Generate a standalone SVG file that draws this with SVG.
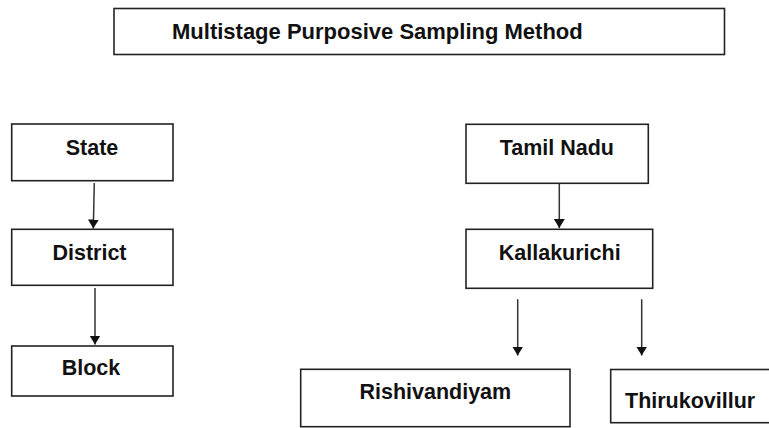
<svg xmlns="http://www.w3.org/2000/svg" width="769" height="428" viewBox="0 0 769 428">
  <style>
    .box { fill: #ffffff; stroke: #222222; stroke-width: 1.6; }
    .label { font-family: "Liberation Sans", Arial, sans-serif; font-weight: bold; font-size: 21.5px; fill: #111111; }
    .title { font-size: 22px; }
    .conn { stroke: #333333; stroke-width: 1.5; fill: none; marker-end: url(#arrow); }
  </style>
  <defs>
    <marker id="arrow" markerUnits="userSpaceOnUse" markerWidth="10" markerHeight="12" refX="9" refY="6" orient="auto" viewBox="0 0 10 12">
      <path d="M0,0.5 L9,6 L0,11.5 z" fill="#111111"/>
    </marker>
  </defs>
  <rect width="769" height="428" fill="#ffffff"/>

  <g id="title">
    <rect class="box" x="114" y="8.5" width="610.5" height="46"/>
    <text class="label title" x="172" y="39">Multistage Purposive Sampling Method</text>
  </g>

  <g id="state">
    <rect class="box" x="11.7" y="124" width="161.3" height="56.7"/>
    <text class="label" x="92" y="155" text-anchor="middle">State</text>
  </g>
  <g id="district">
    <rect class="box" x="11.7" y="229.3" width="161.3" height="56"/>
    <text class="label" x="89.5" y="260" text-anchor="middle">District</text>
  </g>
  <g id="block">
    <rect class="box" x="11.7" y="346" width="161.3" height="50"/>
    <text class="label" x="91" y="375" text-anchor="middle">Block</text>
  </g>

  <g id="tamil-nadu">
    <rect class="box" x="466" y="124.3" width="182.3" height="59"/>
    <text class="label" x="556.8" y="155" text-anchor="middle">Tamil Nadu</text>
  </g>
  <g id="kallakurichi">
    <rect class="box" x="466" y="229.3" width="186.7" height="59"/>
    <text class="label" x="559.7" y="260" text-anchor="middle">Kallakurichi</text>
  </g>
  <g id="rishivandiyam">
    <rect class="box" x="300.7" y="369.3" width="269.3" height="57.4"/>
    <text class="label" x="435.3" y="399.3" text-anchor="middle">Rishivandiyam</text>
  </g>
  <g id="thirukovillur">
    <rect class="box" x="610.7" y="369.5" width="170" height="53.2"/>
    <text class="label" x="625" y="407.7">Thirukovillur</text>
  </g>

  <g id="connectors">
    <line class="conn" x1="94.3" y1="183" x2="93.3" y2="228.5"/>
    <line class="conn" x1="95" y1="288" x2="95" y2="344.5"/>
    <line class="conn" x1="559.3" y1="183.5" x2="559.3" y2="228"/>
    <line class="conn" x1="517.7" y1="299.3" x2="517.7" y2="355.5"/>
    <line class="conn" x1="641.7" y1="299.3" x2="641.7" y2="355.5"/>
  </g>
</svg>
